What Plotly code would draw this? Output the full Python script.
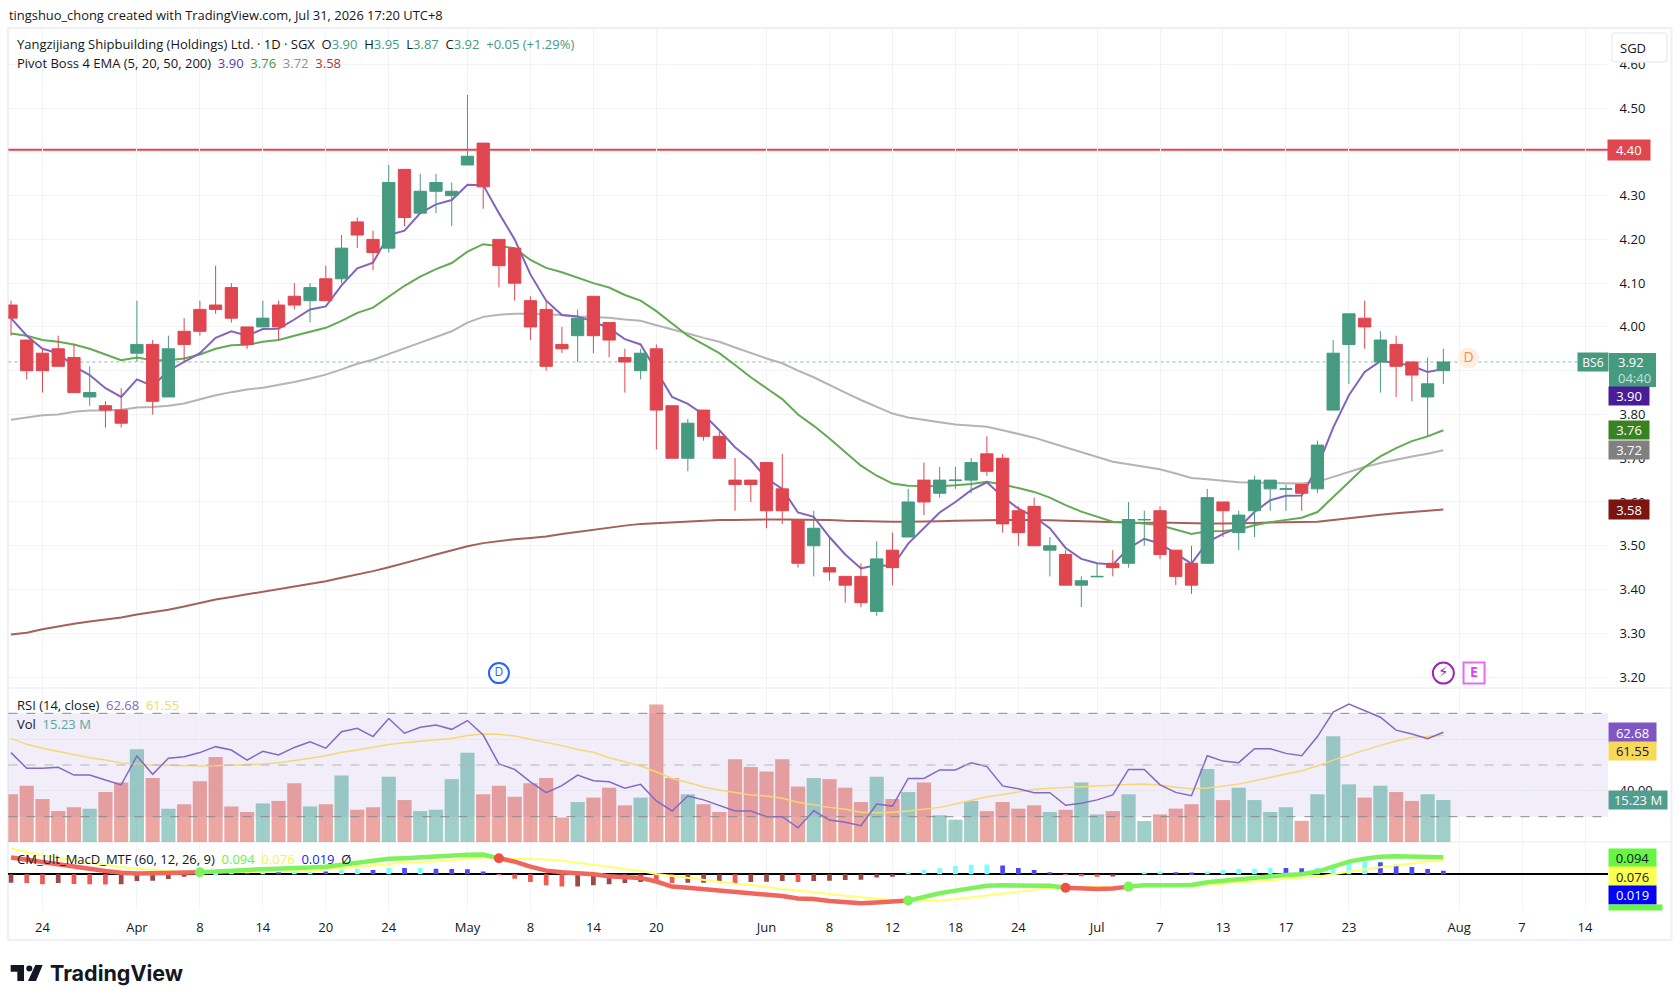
import plotly.graph_objects as go

W, H = 1680, 1002

opens = [4.05,3.97,3.94,3.95,3.93,3.84,3.82,3.81,3.94,3.96,3.84,3.99,4.04,4.05,4.09,4.00,4.00,4.05,4.07,4.06,
 4.11,4.11,4.24,4.20,4.18,4.36,4.26,4.31,4.30,4.37,4.42,4.20,4.18,4.06,4.04,3.96,3.98,4.07,4.01,3.93,
 3.90,3.95,3.82,3.70,3.81,3.75,3.65,3.65,3.69,3.63,3.56,3.50,3.45,3.43,3.43,3.35,3.49,3.52,3.65,3.62,
 3.649,3.65,3.71,3.70,3.58,3.59,3.49,3.48,3.41,3.429,3.46,3.46,3.559,3.58,3.49,3.46,3.46,3.60,3.53,3.58,
 3.63,3.629,3.64,3.63,3.81,3.96,4.02,3.92,3.96,3.92,3.84,3.90]
highs = [4.06,3.97,3.95,3.98,3.96,3.91,3.83,3.86,4.06,3.97,3.98,4.02,4.06,4.14,4.10,4.00,4.06,4.06,4.10,4.10,
 4.14,4.21,4.25,4.22,4.37,4.36,4.35,4.35,4.33,4.53,4.42,4.20,4.18,4.07,4.06,4.00,4.04,4.07,4.01,3.95,
 3.95,3.96,3.82,3.79,3.81,3.76,3.70,3.65,3.69,3.71,3.56,3.58,3.52,3.43,3.46,3.51,3.53,3.63,3.69,3.68,
 3.68,3.70,3.75,3.71,3.59,3.61,3.52,3.49,3.43,3.46,3.49,3.60,3.58,3.59,3.49,3.50,3.63,3.60,3.58,3.66,
 3.65,3.64,3.64,3.74,3.97,4.03,4.06,3.99,3.98,3.92,3.93,3.95]
lows = [3.98,3.88,3.85,3.91,3.85,3.82,3.77,3.77,3.92,3.80,3.84,3.92,3.98,4.03,4.01,3.95,4.00,3.97,4.04,4.01,
 4.06,4.10,4.18,4.13,4.17,4.23,4.26,4.26,4.23,4.37,4.27,4.09,4.06,3.97,3.90,3.94,3.92,3.94,3.93,3.85,
 3.88,3.72,3.70,3.67,3.74,3.70,3.58,3.60,3.54,3.55,3.45,3.43,3.42,3.37,3.36,3.34,3.41,3.52,3.57,3.61,
 3.63,3.62,3.66,3.53,3.50,3.50,3.43,3.41,3.36,3.43,3.43,3.45,3.50,3.47,3.41,3.39,3.46,3.52,3.49,3.52,
 3.58,3.58,3.58,3.62,3.81,3.87,3.95,3.85,3.84,3.83,3.75,3.87]
closes = [4.02,3.90,3.90,3.91,3.85,3.85,3.81,3.78,3.96,3.83,3.95,3.96,3.99,4.04,4.02,3.96,4.02,4.00,4.05,4.09,
 4.06,4.18,4.21,4.17,4.33,4.25,4.31,4.33,4.31,4.39,4.32,4.14,4.10,4.00,3.91,3.95,4.02,3.98,3.97,3.92,
 3.94,3.81,3.70,3.78,3.75,3.70,3.64,3.64,3.58,3.58,3.46,3.54,3.44,3.41,3.37,3.47,3.45,3.60,3.60,3.65,
 3.65,3.69,3.67,3.55,3.53,3.50,3.50,3.41,3.42,3.43,3.45,3.56,3.56,3.48,3.43,3.41,3.61,3.58,3.57,3.65,
 3.65,3.63,3.62,3.73,3.94,4.03,4.00,3.97,3.91,3.89,3.87,3.92]

ema5 = [4.02,3.98,3.95,3.94,3.91,3.89,3.86,3.84,3.88,3.865,3.90,3.92,3.94,3.975,3.99,3.98,3.995,3.996,4.017,4.04,
 4.047,4.095,4.134,4.147,4.21,4.22,4.26,4.28,4.29,4.325,4.324,4.26,4.20,4.12,4.06,4.027,4.024,4.012,3.997,3.972,
 3.96,3.90,3.84,3.824,3.80,3.764,3.725,3.696,3.654,3.63,3.576,3.566,3.52,3.48,3.448,3.456,3.453,3.505,3.54,3.576,
 3.60,3.627,3.645,3.612,3.585,3.566,3.54,3.495,3.47,3.46,3.457,3.494,3.516,3.505,3.482,3.459,3.508,3.527,3.541,3.577,
 3.604,3.614,3.615,3.68,3.77,3.844,3.897,3.922,3.918,3.911,3.897,3.904]
ema20 = [3.985,3.98,3.97,3.966,3.96,3.95,3.937,3.924,3.93,3.924,3.924,3.928,3.937,3.95,3.958,3.959,3.966,3.97,3.98,3.989,
 3.998,4.014,4.032,4.044,4.07,4.094,4.115,4.132,4.146,4.172,4.189,4.184,4.18,4.153,4.135,4.125,4.113,4.10,4.09,4.073,
 4.06,4.036,4.008,3.98,3.96,3.94,3.913,3.885,3.86,3.835,3.80,3.774,3.745,3.713,3.683,3.66,3.642,3.637,3.636,3.636,
 3.638,3.641,3.646,3.64,3.632,3.623,3.61,3.593,3.578,3.566,3.555,3.553,3.551,3.547,3.537,3.527,3.533,3.534,3.537,3.547,
 3.554,3.559,3.564,3.577,3.611,3.646,3.68,3.704,3.723,3.739,3.75,3.764]
ema50 = [3.788,3.793,3.798,3.80,3.806,3.809,3.809,3.811,3.816,3.817,3.82,3.825,3.834,3.844,3.851,3.857,3.861,3.867,3.874,3.882,
 3.891,3.903,3.916,3.925,3.9375,3.95,3.964,3.977,3.99,4.01,4.023,4.028,4.03,4.03,4.029,4.027,4.024,4.023,4.021,4.017,
 4.014,4.004,3.995,3.985,3.975,3.966,3.953,3.94,3.928,3.917,3.90,3.885,3.867,3.85,3.833,3.818,3.802,3.793,3.787,3.782,
 3.777,3.774,3.772,3.764,3.755,3.747,3.736,3.725,3.713,3.702,3.692,3.686,3.68,3.675,3.665,3.655,3.652,3.648,3.645,3.644,
 3.643,3.642,3.642,3.646,3.657,3.668,3.68,3.689,3.697,3.704,3.71,3.718]
ema200 = [3.297,3.301,3.309,3.316,3.322,3.327,3.332,3.336,3.343,3.348,3.354,3.361,3.369,3.377,3.383,3.389,3.394,3.40,3.407,3.413,
 3.419,3.427,3.434,3.442,3.451,3.46,3.47,3.48,3.489,3.499,3.506,3.511,3.515,3.518,3.521,3.527,3.532,3.537,3.541,3.546,
 3.55,3.552,3.554,3.555,3.558,3.559,3.559,3.56,3.56,3.56,3.56,3.56,3.559,3.557,3.556,3.555,3.555,3.555,3.555,3.556,
 3.557,3.558,3.559,3.559,3.559,3.559,3.558,3.557,3.556,3.555,3.554,3.553,3.552,3.553,3.552,3.551,3.551,3.551,3.551,3.552,
 3.553,3.553,3.554,3.555,3.559,3.563,3.568,3.571,3.574,3.577,3.58,3.583]

rsi = [54.8,48.7,48.7,49.1,46.1,46.1,44.2,42.3,53.5,46.4,52.6,53.2,54.8,57.1,55.8,51.9,55.3,53.9,56.8,59,
 56.5,62.9,64.2,61,68,62.3,64.6,65.5,63.8,67.2,61.6,50.4,48.3,43.5,39.3,42,46.1,43.9,43.5,41,
 42.5,36.1,32.2,38,36.5,34.5,32.2,32.2,30,30,25.7,32.3,28.7,27.8,26.5,34.9,34.1,44.8,44.8,48.1,
 48.1,50.9,49.4,41.9,40.8,39.3,39.3,34.4,35.2,36.5,38.4,48.3,48.3,42.3,39.4,38.1,53.6,51.5,50.9,56.3,
 56.3,54.5,53.6,61,70.5,73.6,71,68.5,63.5,62,60.2,62.68]
rsi_ma = [60.3,58,56.5,55.2,53.9,52.8,51.9,50.8,50.4,49.9,49.9,49.7,49.6,49.7,49.9,50,50.4,50.9,51.7,52.6,
 53.6,54.9,55.8,56.8,57.9,58.6,59.3,59.8,60.3,61.4,62,61.9,61.2,60,58.9,57.5,56,54.9,52.8,51.3,
 49.6,47.4,44.8,43.2,41.5,40.3,39.3,38.4,38,37.1,35.6,34.5,33.6,32.9,31.7,31.5,31.7,32.2,32.9,33.6,
 34.9,36.2,37.7,38.6,39.7,40.6,41,41.4,41.6,41.9,42.3,42.5,42.6,42.3,41.4,40.8,41.1,41.9,42.6,43.9,
 45.1,46.5,47.8,49.6,51.9,53.9,55.8,57.6,59.3,60.6,61,61.55]
volume = [17.3,20.4,15.6,11.2,12.6,12.1,18.1,21.6,33.6,23.2,12.1,13.7,22.0,30.8,12.9,10.9,14.0,14.9,21.3,12.9,
 13.7,24.1,11.7,12.6,23.7,15.2,11.2,11.7,22.8,32.4,17.3,20.4,16.4,21.3,23.2,8.9,14.5,16.1,19.7,13.3,
 16.1,49.9,23.2,17.3,13.7,10.9,30.0,27.2,25.6,30.0,20.1,23.2,22.8,19.7,14.5,23.7,15.6,18.1,21.6,9.7,
 8.1,14.9,11.2,14.5,12.1,13.3,10.9,11.7,21.6,10.0,11.2,17.3,7.6,10.0,12.1,13.7,26.5,15.2,19.7,15.2,
 10.9,12.6,7.7,17.3,38.4,20.9,16.1,20.4,18.1,14.9,17.3,15.23]

macd = [.092,.079,.064,.053,.042,.031,.018,.009,.004,.006,.006,.009,.011,.017,.022,.024,.028,.029,.033,.037,
 .042,.053,.063,.072,.085,.088,.094,.099,.103,.107,.109,.088,.070,.042,.020,.011,.006,0,-.011,-.017,
 -.020,-.040,-.068,-.074,-.081,-.090,-.099,-.105,-.114,-.120,-.134,-.136,-.147,-.155,-.160,-.156,-.153,-.145,-.123,-.105,
 -.090,-.074,-.063,-.061,-.063,-.063,-.063,-.074,-.079,-.081,-.079,-.068,-.061,-.061,-.061,-.059,-.044,-.035,-.028,-.018,
 -.009,-.004,0,.015,.042,.070,.086,.096,.099,.099,.098,.094]
signal = [.142,.123,.103,.090,.077,.064,.052,.040,.031,.024,.017,.013,.009,.009,.011,.013,.015,.015,.018,.020,
 .028,.037,.044,.052,.057,.063,.066,.070,.077,.088,.092,.090,.088,.086,.081,.074,.064,.055,.042,.029,
 .018,.002,-.009,-.022,-.031,-.040,-.052,-.059,-.072,-.081,-.090,-.098,-.109,-.118,-.127,-.136,-.142,-.146,-.145,-.144,
 -.138,-.127,-.118,-.109,-.098,-.086,-.075,-.070,-.068,-.070,-.072,-.072,-.068,-.066,-.066,-.066,-.059,-.053,-.046,-.040,
 -.033,-.028,-.022,-.013,0,.015,.028,.039,.050,.059,.070,.076]
hist = [-.047,-.048,-.055,-.048,-.054,-.055,-.056,-.055,-.037,-.036,-.026,-.013,.001,.006,.016,.015,.016,.012,.013,.016,
 .015,.024,.030,.024,.035,.034,.035,.030,.029,.028,.016,-.001,-.024,-.042,-.061,-.068,-.067,-.061,-.055,-.048,
 -.042,-.043,-.048,-.047,-.047,-.042,-.048,-.042,-.041,-.037,-.042,-.037,-.036,-.031,-.030,-.018,-.013,.011,.024,.035,
 .046,.053,.054,.048,.035,.024,.011,-.001,-.011,-.013,-.012,0,.011,.016,.011,.010,.016,.024,.030,.031,
 .035,.034,.033,.035,.053,.061,.070,.066,.053,.040,.029,.019]

tick_index = [2,8,12,16,20,24,29,33,37,41,48,52,56,60,64,69,73,77,81,85,92,96,100]
tick_label = ['24','Apr','8','14','20','24','May','8','14','20','Jun','8','12','18','24','Jul','7','13','17','23','Aug','7','14']
price_ticks = [3.2,3.3,3.4,3.5,3.6,3.7,3.8,4.0,4.1,4.2,4.3,4.5,4.6]
price_grid_only = [3.9,4.4]
rsi_ticks = [40]
rsi_grid_only = [60]
resistance = 4.405
last_close = closes[-1]

FONT = "Open Sans"
INK = "#131722"
UP = "#459a80"
DOWN = "#e0464f"
GRID = "#f1f3f6"

px = lambda x: x / W
py = lambda y: 1 - y / H
x_idx = list(range(len(closes)))
XR = [-0.165, 101.46]
PR = [3.175, 4.683]
XDOM = [px(8.4), px(1608)]

fig = go.Figure()

# main pane: moving averages sit under the candles
for name, vals, col in [("EMA200", ema200, "#a5605c"), ("EMA50", ema50, "#b5b3b3"),
                        ("EMA20", ema20, "#62ab53"), ("EMA5", ema5, "#8364bd")]:
    fig.add_trace(go.Scatter(x=x_idx, y=vals, mode="lines", name=name, line=dict(color=col, width=2),
                             xaxis="x", yaxis="y", hoverinfo="skip"))

fig.add_trace(go.Candlestick(x=x_idx, open=opens, high=highs, low=lows, close=closes, xaxis="x", yaxis="y2",
                             increasing=dict(line=dict(color=UP, width=1), fillcolor=UP),
                             decreasing=dict(line=dict(color=DOWN, width=1), fillcolor=DOWN),
                             whiskerwidth=0, name="Price"))

# event icons on the price pane
fig.add_trace(go.Scatter(x=[31], y=[3.209], mode="markers+text", text=["D"], textposition="middle center",
                         textfont=dict(color="#2962ff", size=12, family=FONT),
                         marker=dict(size=20, color="white", line=dict(color="#2962ff", width=2)),
                         xaxis="x", yaxis="y", hoverinfo="skip"))
fig.add_trace(go.Scatter(x=[91], y=[3.209], mode="markers+text", text=["⚡"], textposition="middle center",
                         textfont=dict(color="#9c27b0", size=15, family="DejaVu Sans"),
                         marker=dict(size=21, color="white", line=dict(color="#9c27b0", width=2)),
                         xaxis="x", yaxis="y", hoverinfo="skip"))
fig.add_trace(go.Scatter(x=[92.95], y=[3.209], mode="markers+text", text=["<b>E</b>"], textposition="middle center",
                         textfont=dict(color="#e040fb", size=14, family=FONT),
                         marker=dict(size=21, symbol="square", color="white", line=dict(color="#e56bf7", width=2)),
                         xaxis="x", yaxis="y", hoverinfo="skip"))
fig.add_trace(go.Scatter(x=[92.6], y=[3.929], mode="markers+text", text=["D"], textposition="middle center",
                         textfont=dict(color="#f0913a", size=14, family=FONT),
                         marker=dict(size=21, color="#fdf0e0"),
                         xaxis="x", yaxis="y", hoverinfo="skip"))

# volume + RSI pane
vol_cols = ["rgba(63,159,145,.5)" if c >= o else "rgba(218,80,70,.5)" for o, c in zip(opens, closes)]
fig.add_trace(go.Bar(x=x_idx, y=volume, marker=dict(color=vol_cols, line=dict(width=0)), width=0.9,
                     xaxis="x2", yaxis="y3", hoverinfo="skip", name="Vol"))
fig.add_trace(go.Scatter(x=x_idx, y=rsi_ma, mode="lines", line=dict(color="#f7d774", width=1.5),
                         xaxis="x2", yaxis="y4", hoverinfo="skip", name="RSI MA"))
fig.add_trace(go.Scatter(x=x_idx, y=rsi, mode="lines", line=dict(color="#8468c6", width=1.5),
                         xaxis="x2", yaxis="y4", hoverinfo="skip", name="RSI"))

# MACD pane
hist_cols = []
for i, v in enumerate(hist):
    prev = hist[i - 1] if i else v
    if v >= 0:
        hist_cols.append("#7ffcfc" if v >= prev else "#4a4af5")
    else:
        hist_cols.append("#ee5a55" if v < prev else "#9c4a48")
fig.add_trace(go.Bar(x=x_idx, y=hist, marker=dict(color=hist_cols, line=dict(width=0)), width=0.3,
                     xaxis="x3", yaxis="y5", hoverinfo="skip", name="Hist"))
fig.add_trace(go.Scatter(x=x_idx, y=signal, mode="lines", line=dict(color="#ffff70", width=2),
                         xaxis="x3", yaxis="y5", hoverinfo="skip", name="Signal"))
above = [m >= s for m, s in zip(macd, signal)]
start = 0
for i in range(1, len(macd) + 1):
    if i == len(macd) or above[i] != above[start]:
        end = min(i, len(macd) - 1)
        fig.add_trace(go.Scatter(x=x_idx[start:end + 1], y=macd[start:end + 1], mode="lines",
                                 line=dict(color="#7df25c" if above[start] else "#f0655c", width=4.5),
                                 xaxis="x3", yaxis="y5", hoverinfo="skip", showlegend=False))
        start = i
cross = [i for i in range(1, len(macd)) if above[i] != above[i - 1]]
fig.add_trace(go.Scatter(x=cross, y=[macd[i] for i in cross], mode="markers",
                         marker=dict(size=10, color=["#7df25c" if above[i] else "#f0503f" for i in cross]),
                         xaxis="x3", yaxis="y5", hoverinfo="skip", name="Cross"))

axis_x = dict(range=XR, domain=XDOM, showgrid=True, gridcolor=GRID, gridwidth=1, tickmode="array",
              tickvals=tick_index, ticktext=tick_label, zeroline=False, showline=False,
              rangeslider=dict(visible=False))

shapes = []
# outer frame and pane separators
shapes.append(dict(type="rect", xref="paper", yref="paper", x0=px(8), x1=px(1671.5), y0=py(28), y1=py(940),
                   line=dict(color="#eef0f3", width=2), layer="below"))
for yy in (688, 842):
    shapes.append(dict(type="line", xref="paper", yref="paper", x0=px(8), x1=px(1671), y0=py(yy), y1=py(yy),
                       line=dict(color="#eef0f3", width=1.5), layer="below"))
# price lines
shapes.append(dict(type="line", xref="paper", yref="y", x0=XDOM[0], x1=XDOM[1], y0=resistance, y1=resistance,
                   line=dict(color=DOWN, width=2), layer="below"))
shapes.append(dict(type="line", xref="paper", yref="y", x0=XDOM[0], x1=px(1578), y0=last_close, y1=last_close,
                   line=dict(color="#7dbfa9", width=1, dash="dot"), layer="below"))
# RSI band
shapes.append(dict(type="rect", xref="paper", yref="y4", x0=XDOM[0], x1=XDOM[1], y0=30, y1=70,
                   fillcolor="rgba(126,87,194,.105)", line=dict(width=0), layer="below"))
for lev, col in [(70, "#8a8a92"), (50, "#b5b3bb"), (30, "#8a8a92")]:
    shapes.append(dict(type="line", xref="paper", yref="y4", x0=XDOM[0], x1=XDOM[1], y0=lev, y1=lev,
                       line=dict(color=col, width=1, dash="dash"), layer="above"))
# SGD button
shapes.append(dict(type="path", xref="paper", yref="paper", layer="above",
                   path=f"M{px(1615)},{py(33)} L{px(1664)},{py(33)} Q{px(1667)},{py(33)} {px(1667)},{py(36)} "
                        f"L{px(1667)},{py(59)} Q{px(1667)},{py(62)} {px(1664)},{py(62)} L{px(1615)},{py(62)} "
                        f"Q{px(1612)},{py(62)} {px(1612)},{py(59)} L{px(1612)},{py(36)} Q{px(1612)},{py(33)} {px(1615)},{py(33)} Z",
                   fillcolor="white", line=dict(color="#eceef2", width=1.5)))
# last-price box
shapes.append(dict(type="rect", xref="paper", yref="paper", x0=px(1609), x1=px(1656), y0=py(353), y1=py(387),
                   fillcolor=UP, line=dict(width=0), layer="above"))
# TradingView logo
def poly(pts):
    return "M" + " L".join(f"{px(a / 3)},{py(955 + b / 3)}" for a, b in pts) + " Z"
shapes.append(dict(type="path", xref="paper", yref="paper", path=poly([(32,30),(72,30),(72,78),(52,78),(52,50),(32,50)]),
                   fillcolor="#131722", line=dict(width=0), layer="above"))
shapes.append(dict(type="path", xref="paper", yref="paper", path=poly([(106,30),(128,30),(108,78),(84,78)]),
                   fillcolor="#131722", line=dict(width=0), layer="above"))
shapes.append(dict(type="circle", xref="paper", yref="paper", x0=px(26.3), x1=px(32.3), y0=py(965.5), y1=py(971.5),
                   fillcolor="#131722", line=dict(width=0), layer="above"))

ann = []
def note(x, y, text, size=13, color=INK, anchor="left", family=FONT):
    ann.append(dict(xref="paper", yref="paper", x=px(x), y=py(y), xanchor=anchor, yanchor="middle", showarrow=False,
                    text=text, align="left", font=dict(family=family, size=size, color=color)))
def tag(x0, x1, y0, y1, text, bg, color="white", size=13):
    ann.append(dict(xref="paper", yref="paper", x=px((x0 + x1) / 2), y=py((y0 + y1) / 2), xanchor="center",
                    yanchor="middle", showarrow=False, text=text, align="center", bgcolor=bg, borderpad=0,
                    width=x1 - x0, height=y1 - y0, font=dict(family=FONT, size=size, color=color)))
def c(col, s):
    return f"<span style='color:{col}'>{s}</span>"

nb = "\u00a0"
note(7, 15, "tingshuo_chong created with TradingView.com, Jul 31, 2026 17:20 UTC+8", size=12.9)
g = "#459a80"
note(15, 44, f"Yangzijiang Shipbuilding (Holdings) Ltd. · 1D · SGX{nb}{nb}O{c(g,'3.90')}{nb}{nb}H{c(g,'3.95')}{nb}{nb}L{c(g,'3.87')}{nb}{nb}C{c(g,'3.92')}{nb}{nb}{c(g,'+0.05 (+1.29%)')}")
note(15, 63, f"Pivot Boss 4 EMA (5, 20, 50, 200){nb}{nb}{c('#5e35b1','3.90')}{nb}{nb}{c('#3f9a35','3.76')}{nb}{nb}{c('#8f8f8f','3.72')}{nb}{nb}{c('#a33a3a','3.58')}")
note(15, 705, f"RSI (14, close){nb}{nb}{c('#8468c6','62.68')}{nb}{nb}{c('#f7d858','61.55')}")
note(15, 724, f"Vol{nb}{nb}{c('#58a89b','15.23 M')}")
note(15, 859, f"CM_Ult_MacD_MTF (60, 12, 26, 9){nb}{nb}{c('#66f542','0.094')}{nb}{nb}{c('#f5f54a','0.076')}{nb}{nb}{c('#2020ee','0.019')}{nb}{nb}Ø")
note(1633, 48, "SGD", anchor="center", size=13)
tag(1608.5, 1650, 140, 159.5, "4.40", DOWN)
tag(1578, 1608, 353, 371, "BS6", UP, size=12)
note(1616, 362, "3.92", color="white", size=13)
note(1616, 378, "04:40", color="#c5e3d9", size=13)
tag(1609, 1649, 387, 405, "3.90", "#4a1d96")
tag(1609, 1649, 421, 439, "3.76", "#38821f")
tag(1609, 1649, 441, 459, "3.72", "#808080")
tag(1609, 1649, 500, 519, "3.58", "#7c1410")
tag(1609, 1656, 723, 742, "62.68", "#7e57c2")
tag(1609, 1656, 742, 760, "61.55", "#f7d858", color=INK)
tag(1609, 1667, 791, 809, "15.23 M", "#4f9e90")
tag(1609, 1656, 849, 867, "0.094", "#66f542", color=INK)
tag(1609, 1656, 867, 886, "0.076", "#ffff4d", color=INK)
tag(1609, 1656, 886, 904, "0.019", "#0000ff")
tag(1609, 1662, 905, 910, "", "#66f542")
note(48, 972.5, "<b>TradingView</b>", size=21.5, family="Inter")

tick_font = dict(family=FONT, size=13, color=INK)
fig.update_layout(
    width=W, height=H, margin=dict(l=0, r=0, t=0, b=0, autoexpand=False), paper_bgcolor="white", plot_bgcolor="white",
    showlegend=False, boxgap=0.22, boxgroupgap=0, barmode="overlay", dragmode=False,
    font=dict(family=FONT, size=12.5, color=INK),
    xaxis=dict(axis_x, anchor="y", showticklabels=False),
    xaxis2=dict(axis_x, anchor="y3", showticklabels=False),
    xaxis3=dict(axis_x, anchor="y5", showticklabels=True, ticks="outside", ticklen=5, tickcolor="rgba(0,0,0,0)",
                tickfont=tick_font),
    yaxis=dict(domain=[py(688), py(28)], range=PR, side="right", anchor="x", tickmode="array", tickvals=price_ticks,
               tickformat=".2f", showgrid=True, gridcolor=GRID, zeroline=False, ticks="outside", ticklen=8,
               tickcolor="rgba(0,0,0,0)", tickfont=tick_font,
               minor=dict(tickmode="array", tickvals=price_grid_only, showgrid=True, gridcolor=GRID, ticks="")),
    yaxis2=dict(domain=[py(688), py(28)], range=PR, overlaying="y", side="right", anchor="x", showgrid=False,
                showticklabels=False, zeroline=False),
    yaxis3=dict(domain=[py(842), py(688)], range=[0, 55.86], anchor="x2", showgrid=False, showticklabels=False,
                zeroline=False),
    yaxis4=dict(domain=[py(842), py(688)], range=[20.2, 79.8], overlaying="y3", side="right", anchor="x2",
                tickmode="array", tickvals=rsi_ticks, tickformat=".2f", showgrid=True, gridcolor="#e8e6f0",
                zeroline=False, ticks="outside", ticklen=8, tickcolor="rgba(0,0,0,0)", tickfont=tick_font,
                minor=dict(tickmode="array", tickvals=rsi_grid_only, showgrid=True, gridcolor="#e8e6f0", ticks="")),
    yaxis5=dict(domain=[py(910), py(842)], range=[-0.197, 0.178], anchor="x3", side="right", showgrid=False,
                showticklabels=False, zeroline=True, zerolinecolor="#000000", zerolinewidth=2),
    shapes=shapes, annotations=ann,
)

fig.write_html("out.html", config={"displayModeBar": False},
               post_script="document.documentElement.style.margin='0';document.body.style.margin='0';")
